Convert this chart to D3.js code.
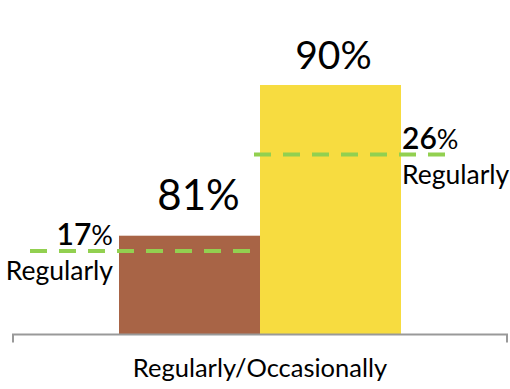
<!DOCTYPE html>
<html>
<head>
<meta charset="utf-8">
<script src="https://cdn.jsdelivr.net/npm/d3@7"></script>
<style>
  html, body { margin: 0; padding: 0; background: #fff; }
  svg { display: block; }
  text { font-family: "Lato", "Open Sans", sans-serif; fill: #000; }
</style>
</head>
<body>
<div id="chart"></div>
<script>
// Share of respondents, two survey groups
const groups = ["groupA", "groupB"];
const totalPct = [81, 90];        // regularly or occasionally
const regularPct = [17, 26];      // regularly only
const barColors = ["#a86446", "#f7dc40"];
const regularColor = "#92d050";
const categoryLabel = "Regularly/Occasionally";
const regularLabel = "Regularly";

const width = 510, height = 389;
const baseY = 334.5;

const svg = d3.select("#chart").append("svg")
  .attr("width", width).attr("height", height);

// Bars sit side by side in the middle of the axis
const x = d3.scaleBand().domain(groups).range([119, 401]).padding(0);

// Truncated value scales: one for the totals, one for the "regularly" markers
const yTotal = d3.scaleLinear().domain([75.1, 90]).range([baseY, 85]);
const yRegular = d3.scaleLinear().domain([9.2, 26]).range([baseY, 154.5]);

const data = groups.map((g, i) => ({
  key: g, total: totalPct[i], regular: regularPct[i], color: barColors[i], i
}));

// Bars
svg.selectAll("rect.bar").data(data).enter().append("rect")
  .attr("class", "bar")
  .attr("x", d => x(d.key))
  .attr("width", x.bandwidth())
  .attr("y", d => yTotal(d.total))
  .attr("height", d => baseY - yTotal(d.total))
  .attr("fill", d => d.color);

// Axis baseline with end ticks
const axis = d3.axisBottom(d3.scaleLinear().domain([0, 1]).range([13, 507]))
  .tickValues([]).tickSizeOuter(-8);
const axisG = svg.append("g")
  .attr("transform", `translate(0,${baseY})`)
  .call(axis);
axisG.select(".domain")
  .attr("stroke", "#999").attr("stroke-width", 2)
  .attr("d", "M13,8V0H507V8");

// Total value labels above bars
svg.selectAll("text.total").data(data).enter().append("text")
  .attr("class", "total")
  .attr("x", d => x(d.key) + x.bandwidth() / 2 + (d.i === 0 ? 9 : 3))
  .attr("y", d => yTotal(d.total) - (d.i === 0 ? 26 : 16))
  .attr("text-anchor", "middle")
  .attr("font-size", d => d.i === 0 ? 42 : 39)
  .text(d => d.total + "%");

// Dashed "regularly" markers
const dashExtent = [
  { from: -89, to: -10 },
  { from: -6, to: 44 }
];
svg.selectAll("line.regular").data(data).enter().append("line")
  .attr("class", "regular")
  .attr("x1", d => x(d.key) + dashExtent[d.i].from)
  .attr("x2", d => x(d.key) + x.bandwidth() + dashExtent[d.i].to)
  .attr("y1", d => yRegular(d.regular))
  .attr("y2", d => yRegular(d.regular))
  .attr("stroke", regularColor)
  .attr("stroke-width", 4)
  .attr("stroke-dasharray", "17,12");

// "Regularly" value + caption
const labelG = svg.selectAll("g.reglabel").data(data).enter().append("g")
  .attr("class", "reglabel");

labelG.append("text")
  .attr("x", d => d.i === 0 ? x(d.key) - 6 : x(d.key) + x.bandwidth() + 1)
  .attr("y", d => yRegular(d.regular) - 6)
  .attr("text-anchor", d => d.i === 0 ? "end" : "start")
  .attr("font-size", 30)
  .call(t => {
    t.append("tspan").attr("font-weight", 600).text(d => d.regular);
    t.append("tspan").attr("font-weight", 400).attr("font-size", 27).text("%");
  });

labelG.append("text")
  .attr("x", d => d.i === 0 ? x(d.key) - 6 : x(d.key) + x.bandwidth() + 1)
  .attr("y", d => yRegular(d.regular) + 29)
  .attr("text-anchor", d => d.i === 0 ? "end" : "start")
  .attr("font-size", 26.5)
  .text(regularLabel);

// Category label under the axis
svg.append("text")
  .attr("x", (13 + 507) / 2)
  .attr("y", 377)
  .attr("text-anchor", "middle")
  .attr("font-size", 25.5)
  .text(categoryLabel);
</script>
</body>
</html>
